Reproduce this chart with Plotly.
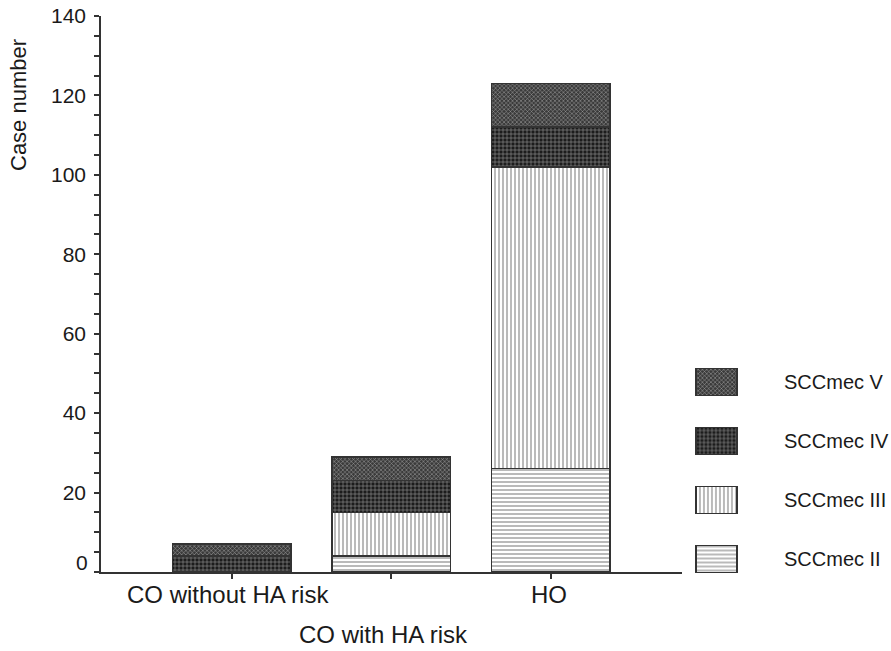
import plotly.graph_objects as go

# ---------------- data ----------------
categories = ["CO without HA risk", "CO with HA risk", "HO"]
series_names = ["SCCmec II", "SCCmec III", "SCCmec IV", "SCCmec V"]
scc_ii = [0, 4, 26]
scc_iii = [0, 11, 76]
scc_iv = [4, 8, 10]
scc_v = [3, 6, 11]
y_ticks = [0, 20, 40, 60, 80, 100, 120, 140]
y_title = "Case number"

# ---------------- layout helpers ----------------
W, H = 891, 651


def fx(p):
    return p / W


def fy(p):
    return 1 - p / H


FONT = "Liberation Sans, Arial, sans-serif"
TXT = "#1a1a1a"
LINE = "#333333"

styles = {
    "SCCmec II": dict(shape="-", bg="#ffffff", fg="#8c8c8c", size=4, sol=0.3),
    "SCCmec III": dict(shape="|", bg="#ffffff", fg="#8c8c8c", size=4, sol=0.3),
    "SCCmec IV": dict(shape="+", bg="#1c1c1c", fg="#b0b0b0", size=4, sol=0.22),
    "SCCmec V": dict(shape="x", bg="#3a3a3a", fg="#a8a8a8", size=3, sol=0.3),
}
values = {"SCCmec II": scc_ii, "SCCmec III": scc_iii, "SCCmec IV": scc_iv, "SCCmec V": scc_v}


def marker(name):
    s = styles[name]
    return dict(
        color=s["bg"],
        line=dict(color=LINE, width=1.5),
        pattern=dict(shape=s["shape"], bgcolor=s["bg"], fgcolor=s["fg"],
                     size=s["size"], solidity=s["sol"], fillmode="replace"),
    )


fig = go.Figure()

for name in series_names:
    fig.add_trace(go.Bar(
        x=categories, y=values[name], name=name, marker=marker(name),
        xaxis="x", yaxis="y", showlegend=False, hoverinfo="skip",
    ))

# legend swatches drawn as bars on a small side axis
for name in series_names:
    fig.add_trace(go.Bar(
        x=[1], y=[name], orientation="h", width=0.46, marker=marker(name),
        xaxis="x2", yaxis="y2", showlegend=False, hoverinfo="skip",
    ))

annotations = []
# category labels (staggered as in the original)
label_y = [594, 634, 594]
label_dx = [-4, -8, -2]
for cat, py, dx in zip(categories, label_y, label_dx):
    annotations.append(dict(
        x=cat, xref="x", y=fy(py), yref="paper", text=cat, showarrow=False,
        xanchor="center", yanchor="middle", xshift=dx,
        font=dict(family=FONT, size=24, color=TXT),
    ))
# legend labels
for name in series_names:
    annotations.append(dict(
        x=fx(782), xref="paper", y=name, yref="y2", text=name, showarrow=False,
        xanchor="left", yanchor="middle",
        font=dict(family=FONT, size=20, color=TXT),
    ))
# y-axis title
annotations.append(dict(
    x=fx(19), xref="paper", y=fy(105), yref="paper", text=y_title, showarrow=False,
    textangle=-90, xanchor="center", yanchor="middle",
    font=dict(family=FONT, size=22, color=TXT),
))
# the zero label sits slightly above the axis line in the original
annotations.append(dict(
    x=fx(90), xref="paper", y=y_ticks[0], yref="y", yshift=10, text=str(y_ticks[0]),
    showarrow=False, xanchor="right", yanchor="middle",
    font=dict(family=FONT, size=21, color=TXT),
))

fig.update_layout(
    template="none",
    width=W, height=H,
    margin=dict(l=0, r=0, t=0, b=0),
    paper_bgcolor="white", plot_bgcolor="white",
    barmode="stack", bargap=0.257,
    font=dict(family=FONT, size=21, color=TXT),
    xaxis=dict(
        domain=[fx(101), fx(682)], range=[-0.819, 2.823], type="category",
        showline=True, linecolor=LINE, linewidth=1.5, mirror=False,
        ticks="outside", ticklen=5, tickwidth=1.5, tickcolor=LINE,
        showticklabels=False, showgrid=False, zeroline=False, anchor="y",
        automargin=False,
    ),
    yaxis=dict(
        domain=[fy(572), fy(16)], range=[0, 140],
        tickvals=y_ticks, ticktext=[""] + [str(v) for v in y_ticks[1:]],
        showline=True, linecolor=LINE, linewidth=1.5,
        ticks="outside", ticklen=5, tickwidth=1.5, tickcolor=LINE,
        ticklabelstandoff=4,
        minor=dict(dtick=5, tick0=0, ticks="outside", ticklen=5, tickwidth=1.5, tickcolor=LINE, showgrid=False),
        tickfont=dict(family=FONT, size=21, color=TXT),
        showgrid=False, zeroline=False, anchor="x", automargin=False,
    ),
    yaxis3=dict(
        overlaying="y", anchor="x", side="left", range=[0, 140],
        tickvals=y_ticks, showticklabels=False, showline=False,
        ticks="inside", ticklen=3, tickwidth=1.5, tickcolor=LINE,
        minor=dict(dtick=5, tick0=0, ticks="inside", ticklen=3, tickwidth=1.5, tickcolor=LINE, showgrid=False),
        showgrid=False, zeroline=False, automargin=False,
    ),
    xaxis2=dict(
        domain=[fx(693.95), fx(739.05)], range=[-0.05, 1.05],
        visible=False, anchor="y2",
    ),
    yaxis2=dict(
        domain=[fy(588.5), fy(352.5)], range=[-0.5, 3.5], type="category",
        categoryorder="array", categoryarray=series_names,
        anchor="x2", visible=False,
    ),
    annotations=annotations,
)

fig.write_html(
    "out.html",
    config={"displayModeBar": False},
    post_script="document.documentElement.style.margin='0';document.body.style.margin='0';"
                "document.body.style.padding='0';document.body.style.overflow='hidden';",
)
